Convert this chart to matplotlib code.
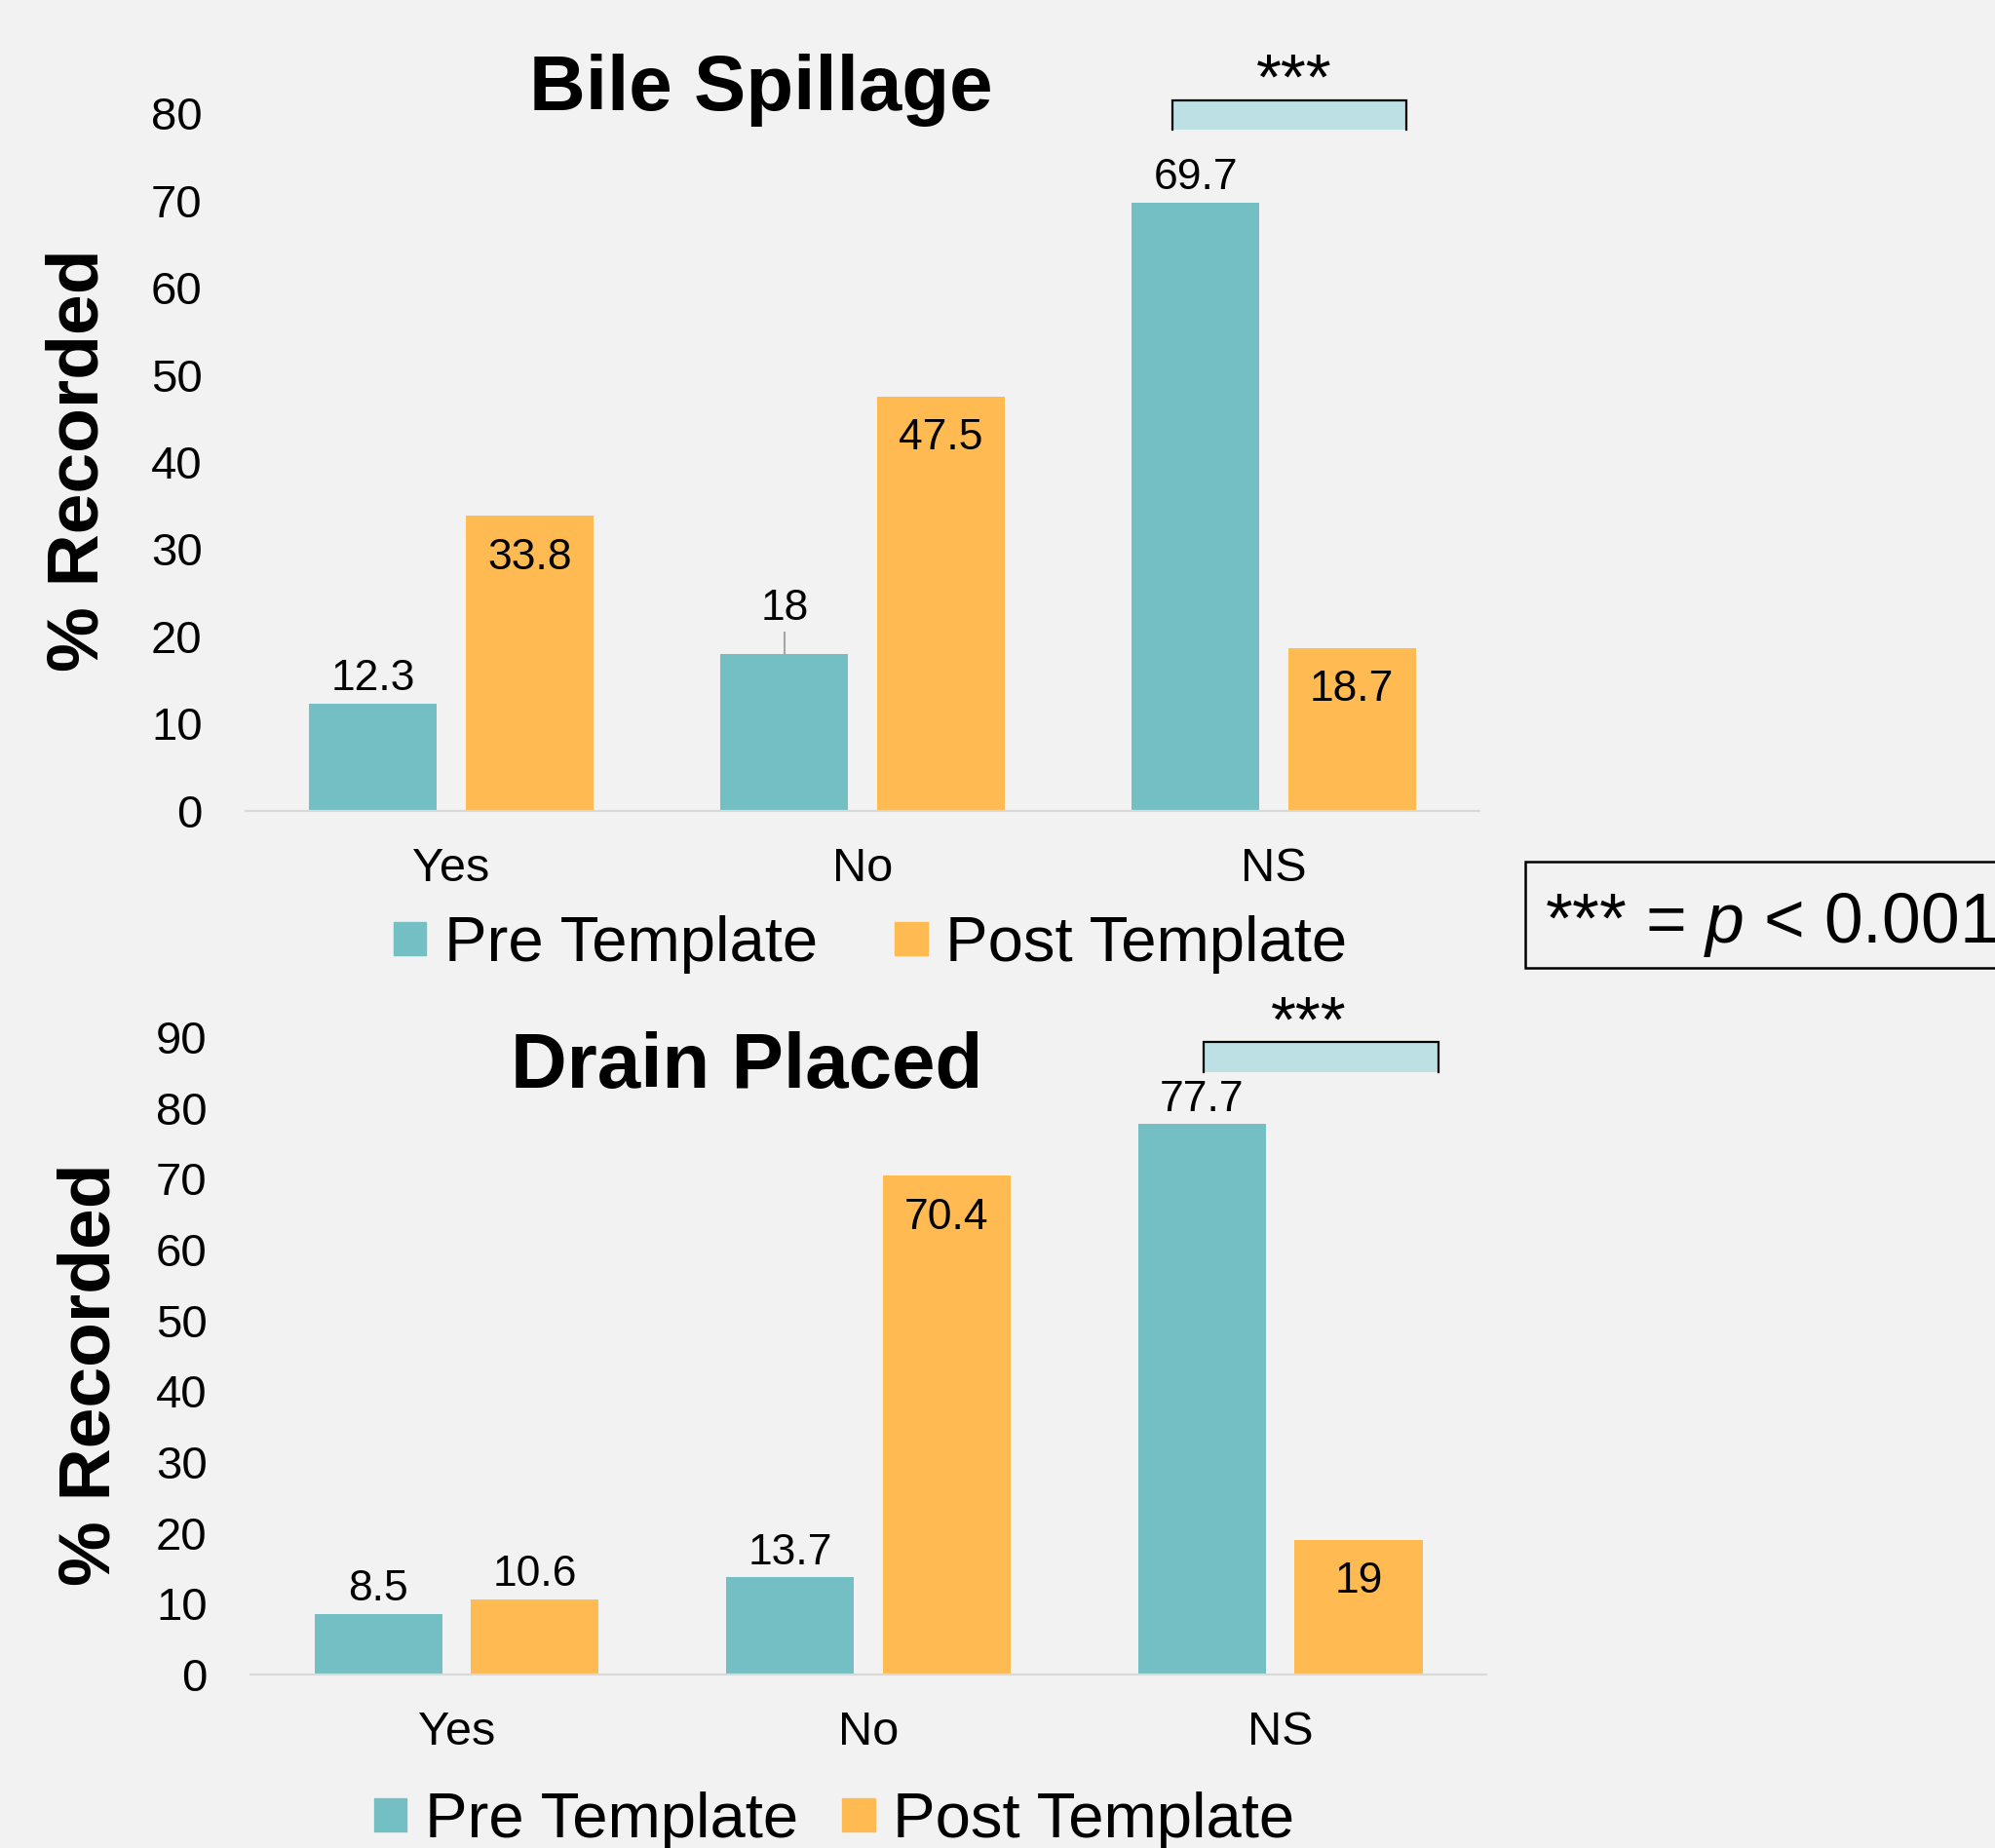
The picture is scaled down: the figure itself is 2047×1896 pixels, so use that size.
import numpy as np
import matplotlib
matplotlib.use("Agg")
import matplotlib.pyplot as plt
from matplotlib.patches import Patch, Rectangle

plt.rcParams['font.family'] = ['Liberation Sans', 'DejaVu Sans']
plt.rcParams['mathtext.fontset'] = 'custom'
plt.rcParams['mathtext.it'] = 'Liberation Sans:italic'
plt.rcParams['mathtext.rm'] = 'Liberation Sans'

categories = ['Yes', 'No', 'NS']
bile_pre = [12.3, 18, 69.7]
bile_post = [33.8, 47.5, 18.7]
drain_pre = [8.5, 13.7, 77.7]
drain_post = [10.6, 70.4, 19]
series_names = ['Pre Template', 'Post Template']

TEAL = '#73BFC4'
ORANGE = '#FFBB52'
BG = '#F2F2F2'
SIG_FILL = '#BCE0E3'

W, H = 2047, 1896
fig = plt.figure(figsize=(W / 100, H / 100), dpi=100)
fig.patch.set_facecolor(BG)


def px(x, y):
    # pixel position in the picture -> figure fraction
    return x / W, 1 - y / H


def draw_panel(ax, pre, post, ymax, sig_x, stars_xy, callout=None):
    x = np.arange(len(categories))
    ax.set_facecolor(BG)
    ax.bar(x - 0.19, pre, width=0.31, color=TEAL)
    ax.bar(x + 0.19, post, width=0.31, color=ORANGE)
    ax.set_xlim(-0.5, 2.5)
    ax.set_ylim(0, ymax)
    ax.set_yticks(np.arange(0, ymax + 1, 10))
    ax.set_xticks(x)
    ax.set_xticklabels(categories)
    for s in ['top', 'left', 'right']:
        ax.spines[s].set_visible(False)
    ax.spines['bottom'].set_color('#D9D9D9')
    ax.spines['bottom'].set_linewidth(1.6)
    ax.tick_params(axis='y', length=0, pad=32, labelsize=34)
    ax.tick_params(axis='x', length=0, pad=27, labelsize=35)

    for i, v in enumerate(pre):
        lift = 10
        if i == callout:
            lift = 25
            ax.plot([x[i] - 0.19] * 2, [v, v + 2.5], color='#A6A6A6', lw=1.5)
        ax.annotate(f'{v:g}', (x[i] - 0.19, v), xytext=(0, lift),
                    textcoords='offset points', ha='center', va='baseline',
                    fontsize=32)
    for i, v in enumerate(post):
        off = -39 if v > 15 else 10
        ax.annotate(f'{v:g}', (x[i] + 0.19, v), xytext=(0, off),
                    textcoords='offset points', ha='center', va='baseline',
                    fontsize=32)

    # significance bracket
    x0, x1, y0, y1 = sig_x
    ax.add_patch(Rectangle((x0, y0), x1 - x0, y1 - y0, facecolor=SIG_FILL,
                           edgecolor='none', clip_on=False))
    ax.plot([x0, x0, x1, x1], [y0, y1, y1, y0], color='black', lw=1.6,
            clip_on=False, solid_joinstyle='miter')
    ax.text(stars_xy[0], stars_xy[1], '***', ha='center', va='baseline',
            fontsize=48)


ax1 = fig.add_axes([0.1231, 0.5612, 0.6185, 0.3776])
draw_panel(ax1, bile_pre, bile_post, 80, (1.754, 2.322, 78.1, 81.45),
           (2.05, 81.6), callout=1)

ax2 = fig.add_axes([0.1256, 0.0939, 0.6194, 0.3449])
draw_panel(ax2, drain_pre, drain_post, 90, (1.814, 2.384, 85.1, 89.3),
           (2.069, 89.4))

fig.text(*px(781, 113), 'Bile Spillage', ha='center', va='baseline',
         fontsize=57.5, fontweight='bold')
fig.text(*px(766, 1116), 'Drain Placed', ha='center', va='baseline',
         fontsize=57.5, fontweight='bold')

fig.text(*px(81, 472), '% Recorded', rotation=90, ha='center', va='center',
         fontsize=54, fontweight='bold')
fig.text(*px(93, 1410), '% Recorded', rotation=90, ha='center', va='center',
         fontsize=54, fontweight='bold')

handles = [Patch(color=TEAL, label=series_names[0]),
           Patch(color=ORANGE, label=series_names[1])]
fig.legend(handles=handles, loc='center left', bbox_to_anchor=px(404, 969),
           ncol=2, frameon=False, fontsize=47, handlelength=0.51,
           handleheight=0.42, handletextpad=0.28, columnspacing=1.22,
           borderpad=0, borderaxespad=0)
fig.legend(handles=handles, loc='center left', bbox_to_anchor=px(384, 1868),
           ncol=2, frameon=False, fontsize=47, handlelength=0.51,
           handleheight=0.42, handletextpad=0.28, columnspacing=0.7,
           borderpad=0, borderaxespad=0)

# p-value key box, runs off the right edge
bx, by = px(1565, 993)
fig.add_artist(Rectangle((bx, by), (2150 - 1565) / W, (993 - 884) / H,
                         transform=fig.transFigure, facecolor=BG,
                         edgecolor='black', lw=1.8))
fig.text(*px(1585, 967), '*** = $p$ < 0.001', ha='left', va='baseline',
         fontsize=51.5)

fig.savefig('out.png', dpi=100, facecolor=BG)
